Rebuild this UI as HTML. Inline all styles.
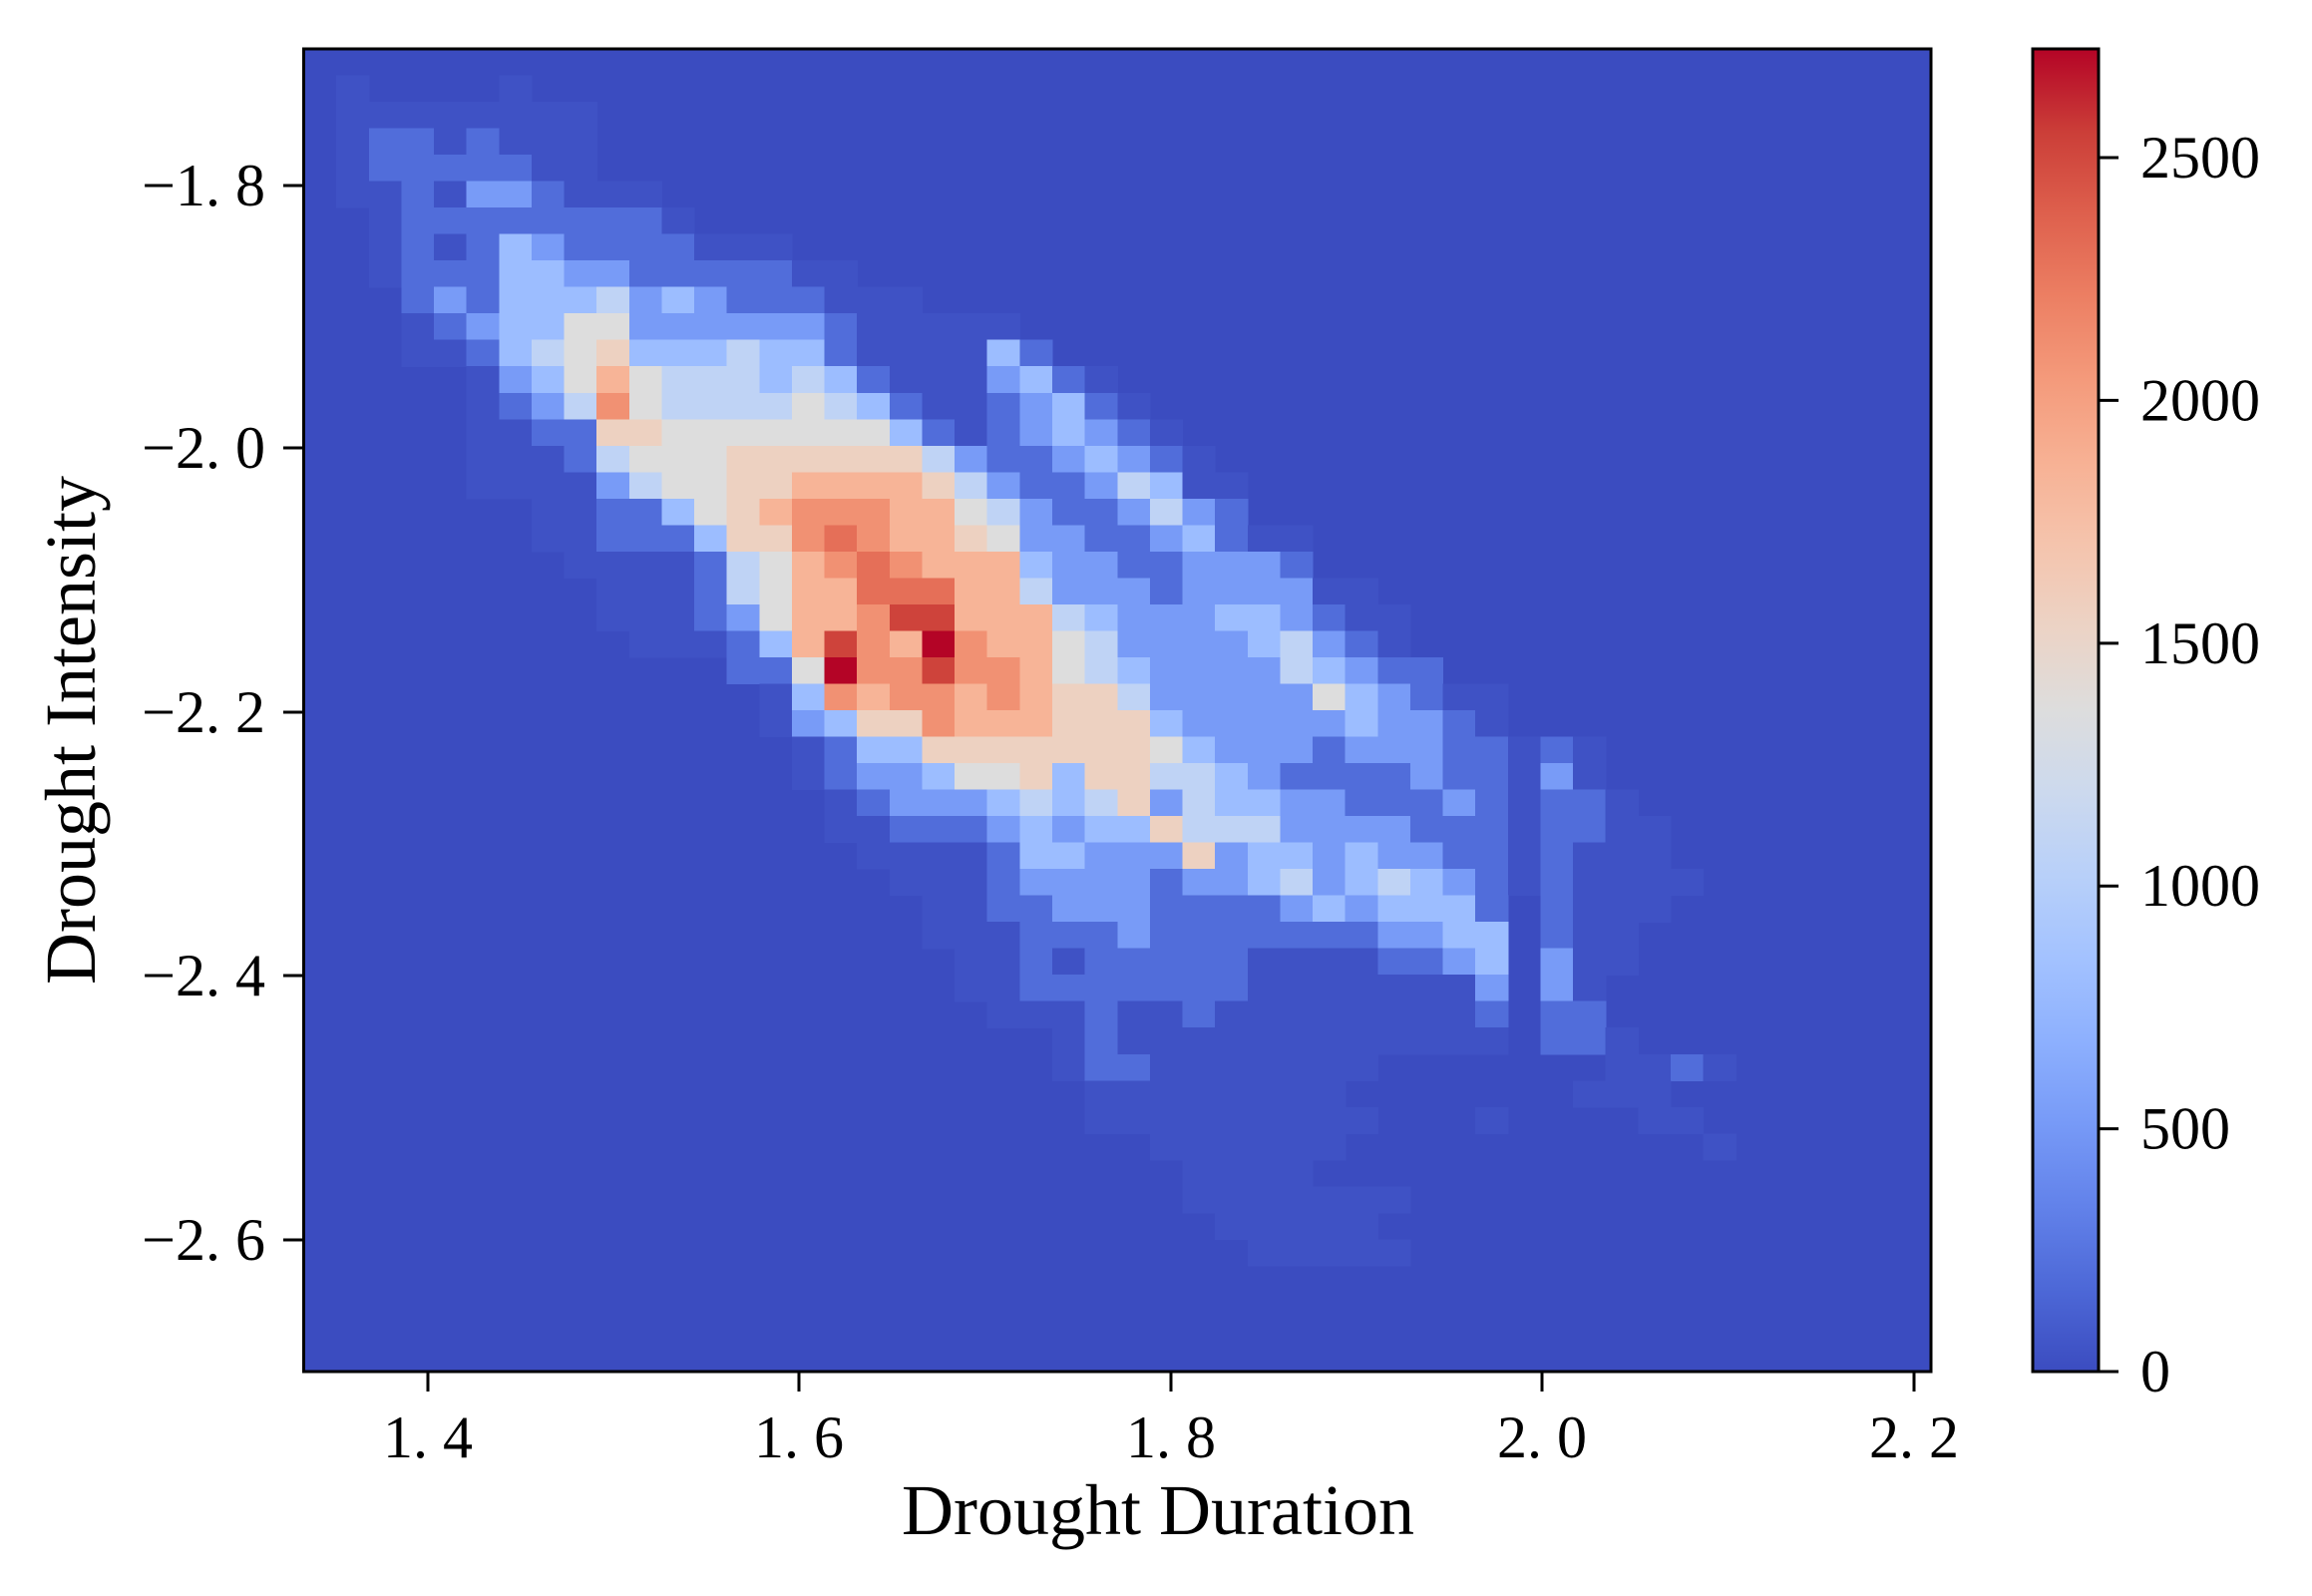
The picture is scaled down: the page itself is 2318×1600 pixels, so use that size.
<!DOCTYPE html>
<html><head><meta charset="utf-8"><style>
html,body{margin:0;padding:0;background:#fff;}
svg{display:block;}
text{font-family:"Liberation Serif","DejaVu Serif",serif;fill:#000;}
</style></head><body>
<svg id="s" width="2318" height="1600" viewBox="0 0 2318 1600" xmlns="http://www.w3.org/2000/svg">
<defs>
<linearGradient id="cw" x1="0" y1="1" x2="0" y2="0">
<stop offset="0" stop-color="rgb(59,76,192)"/><stop offset="0.0625" stop-color="rgb(77,104,215)"/>
<stop offset="0.125" stop-color="rgb(98,130,234)"/><stop offset="0.1875" stop-color="rgb(119,154,247)"/>
<stop offset="0.25" stop-color="rgb(141,176,254)"/><stop offset="0.3125" stop-color="rgb(163,194,255)"/>
<stop offset="0.375" stop-color="rgb(184,208,249)"/><stop offset="0.4375" stop-color="rgb(204,217,238)"/>
<stop offset="0.5" stop-color="rgb(221,221,221)"/><stop offset="0.5625" stop-color="rgb(236,211,197)"/>
<stop offset="0.625" stop-color="rgb(245,196,173)"/><stop offset="0.6875" stop-color="rgb(247,177,148)"/>
<stop offset="0.75" stop-color="rgb(244,154,123)"/><stop offset="0.8125" stop-color="rgb(236,127,99)"/>
<stop offset="0.875" stop-color="rgb(222,96,77)"/><stop offset="0.9375" stop-color="rgb(203,62,56)"/>
<stop offset="1" stop-color="rgb(180,4,38)"/>
</linearGradient>
</defs>
<rect x="304.5" y="49" width="1631.5" height="1326" fill="rgb(59,76,192)"/>
<g id="cells" shape-rendering="crispEdges"></g>
<rect x="304.5" y="49" width="1631.5" height="1326" fill="none" stroke="#000" stroke-width="3"/>
<g stroke="#000" stroke-width="3">
<line x1="429" y1="1375" x2="429" y2="1395"/><line x1="801" y1="1375" x2="801" y2="1395"/>
<line x1="1174" y1="1375" x2="1174" y2="1395"/><line x1="1546" y1="1375" x2="1546" y2="1395"/>
<line x1="1919" y1="1375" x2="1919" y2="1395"/>
<line x1="284" y1="186" x2="304" y2="186"/><line x1="284" y1="449" x2="304" y2="449"/>
<line x1="284" y1="714" x2="304" y2="714"/><line x1="284" y1="978" x2="304" y2="978"/>
<line x1="284" y1="1243" x2="304" y2="1243"/>
</g>
<g font-size="60" text-anchor="middle">
<text x="429" y="1461">1. 4</text><text x="801" y="1461">1. 6</text><text x="1174" y="1461">1. 8</text>
<text x="1546" y="1461">2. 0</text><text x="1919" y="1461">2. 2</text>
</g>
<g font-size="60" text-anchor="end">
<text x="266" y="206">−1. 8</text><text x="266" y="469">−2. 0</text><text x="266" y="734">−2. 2</text>
<text x="266" y="998">−2. 4</text><text x="266" y="1263">−2. 6</text>
</g>
<text x="1161" y="1538" font-size="72" text-anchor="middle">Drought Duration</text>
<text transform="translate(95,732) rotate(-90)" font-size="72" text-anchor="middle">Drought Intensity</text>
<rect x="2038" y="49" width="66" height="1326" fill="url(#cw)" stroke="#000" stroke-width="3"/>
<g id="cb" stroke="#000" stroke-width="3"></g>
<g id="cbt" font-size="60"></g>
</svg>
<script>
var V={'0':0,'1':35,'2':200,'3':520,'4':800,'5':1080,'6':1360,'7':1560,'8':1850,'9':2100,'a':2300,'b':2530,'c':2724};
var D=[
[1,1,"100001"],[2,1,"11111111"],[3,1,"12212111"],[4,1,"12222211"],[5,1,"1121332111"],
[6,2,"1222222221"],[7,2,"1212432222111"],[8,2,"122244332222211"],[9,3,"2324445343222111"],
[10,3,"1234466333333211111"],[11,3,"11245674445442111142"],[12,5,"13468655545421113421"],
[13,5,"123596555565421123421"],[14,5,"1122776666666421234321"],[15,5,"11125666777777532234321"],
[16,5,"111135667788887532235411"],[17,7,"1122467899988653223532"],[18,7,"112224779a98876332234211"],
[19,8,"111125689a9888433223332"],[20,9,"11125688aaa8853332333311"],[21,9,"111236889bb88854333443211"],
[22,10,"111248b98c98865333345321"],[23,13,"226c99b998654333354322"],[24,14,"14989989877533333643211"],
[25,14,"13477988877743333343321"],[26,15,"1244777777764333233322121"],[27,15,"1233466747755432222322131"],
[28,16,"1233345457354433222321221"],[29,16,"11222343447555333322212211"],[30,17,"1111244333734434332212111"],
[31,18,"1112333323345345432121111"],[32,19,"11223332222343444202111"],[33,19,"1112223222222233440211"],
[34,20,"112122222111122340311"],[35,20,"11222222211111113031"],[36,21,"1112112111111112022"],
[37,23,"121111111111110221"],[38,23,"122111111100000001121"],[39,24,"111111110000000111"],
[40,24,"1111111110001000011"],[41,26,"111111000000000001"],[42,27,"1111"],[43,27,"1111111"],
[44,28,"11111"],[45,29,"11111"]];
var A=[[0,59,76,192],[.0625,77,104,215],[.125,98,130,234],[.1875,119,154,247],[.25,141,176,254],[.3125,163,194,255],[.375,184,208,249],[.4375,204,217,238],[.5,221,221,221],[.5625,236,211,197],[.625,245,196,173],[.6875,247,177,148],[.75,244,154,123],[.8125,236,127,99],[.875,222,96,77],[.9375,203,62,56],[1,180,4,38]];
function col(v){var t=Math.max(0,Math.min(1,v/2724));for(var i=0;i<A.length-1;i++){if(t<=A[i+1][0]){var f=(t-A[i][0])/(A[i+1][0]-A[i][0]);var c=[1,2,3].map(function(k){return Math.round(A[i][k]+f*(A[i+1][k]-A[i][k]));});return "rgb("+c.join(",")+")";}}return "rgb(180,4,38)";}
var g=document.getElementById('cells'),ns="http://www.w3.org/2000/svg",cw=1631.5/50,ch=1326/50;
D.forEach(function(r){for(var i=0;i<r[2].length;i++){var ch0=r[2][i];if(ch0==='0')continue;var c=r[1]+i;var e=document.createElementNS(ns,'rect');e.setAttribute('x',(304.5+c*cw).toFixed(2));e.setAttribute('y',(49+r[0]*ch).toFixed(2));e.setAttribute('width',(cw+0.6).toFixed(2));e.setAttribute('height',(ch+0.6).toFixed(2));e.setAttribute('fill',col(V[ch0]));g.appendChild(e);}});
var cb=document.getElementById('cb'),cbt=document.getElementById('cbt');
[0,500,1000,1500,2000,2500].forEach(function(v){var y=1375-v/2724*1326;var l=document.createElementNS(ns,'line');l.setAttribute('x1',2104);l.setAttribute('x2',2124);l.setAttribute('y1',y);l.setAttribute('y2',y);cb.appendChild(l);var t=document.createElementNS(ns,'text');t.setAttribute('x',2146);t.setAttribute('y',y+20);t.textContent=v;cbt.appendChild(t);});
</script>
</body></html>
